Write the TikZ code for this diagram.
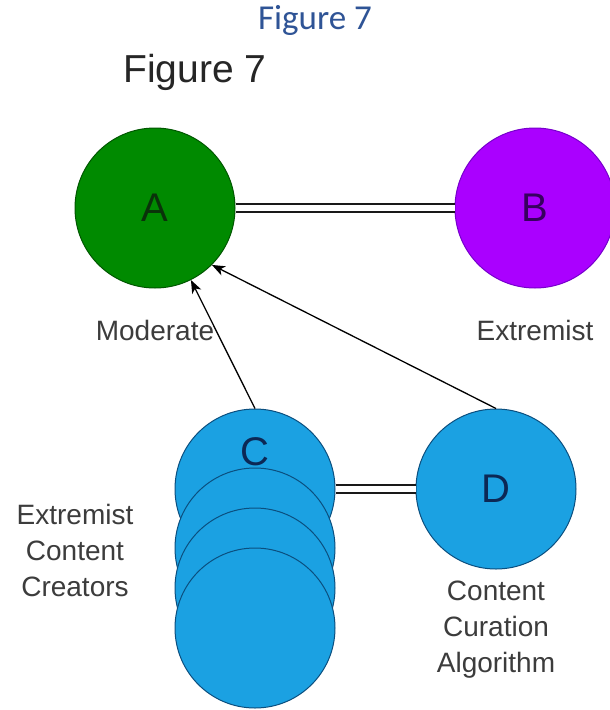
\documentclass[tikz,border=0pt]{standalone}
\usepackage{fontspec}
\setmainfont{Liberation Sans}
\newfontfamily\titlefont{Carlito}
\usetikzlibrary{arrows.meta}

\definecolor{modgreen}{HTML}{008A00}
\definecolor{modedge}{HTML}{005700}
\definecolor{extpurple}{HTML}{AA00FF}
\definecolor{extedge}{HTML}{7700CC}
\definecolor{creblue}{HTML}{1BA1E2}
\definecolor{creedge}{HTML}{0B4F7F}
\definecolor{capgray}{HTML}{3C3C3C}
\definecolor{titleblue}{HTML}{2F5496}

\tikzset{
  bubble/.style={circle, minimum size=160pt, inner sep=0pt, line width=1pt},
  lettr/.style={font=\fontsize{40}{48}\selectfont},
  caption/.style={font=\fontsize{28}{36}\selectfont, text=capgray, align=center},
  link/.style={draw=black!90, double=white, double distance=6pt, line width=1.6pt},
  feed/.style={draw=black, line width=1.3pt,
    -{Stealth[length=13pt, width=10pt, inset=3.5pt]}}
}

\begin{document}
\begin{tikzpicture}[x=1pt, y=-1pt]
\useasboundingbox (0,0) rectangle (610,710);
\fill[white] (0,0) rectangle (610,710);

% titles
\node[font=\titlefont\fontsize{35}{40}\selectfont, text=titleblue] (title) at (315,20) {Figure 7};
\node[font=\fontsize{39}{46}\selectfont, text=black!85] (subtitle) at (195,72) {Figure 7};

% the two camps
\node[bubble, fill=modgreen, draw=modedge, lettr, text={rgb,255:red,10;green,50;blue,10}] (A) at (155,208) {A};
\node[bubble, fill=extpurple, draw=extedge, lettr, text={rgb,255:red,55;green,0;blue,95}] (B) at (535,208) {B};
\node[caption] (modlbl) at (155,330) {Moderate};
\node[caption] (extlbl) at (535,330) {Extremist};

% stack of content creators
\node[bubble, fill=creblue, draw=creedge,
  label={[lettr, text={rgb,255:red,12;green,40;blue,85}, anchor=center, label distance=-43pt]90:C}] (C1) at (255,489) {};
\node[bubble, fill=creblue, draw=creedge] (C2) at (255,548) {};
\node[bubble, fill=creblue, draw=creedge] (C3) at (255,588) {};
\node[bubble, fill=creblue, draw=creedge] (C4) at (255,628) {};
\node[caption] (crelbl) at (75,550) {Extremist\\Content\\Creators};

% curation algorithm
\node[bubble, fill=creblue, draw=creedge, lettr, text={rgb,255:red,12;green,40;blue,85}] (D) at (496,489) {D};
\node[caption] (alglbl) at (496,630) {Content\\Curation\\Algorithm};

% connectors
\draw[link] (A) -- (B);
\draw[link] (C1) -- (D);
\draw[feed] (C1.north) -- (A);
\draw[feed] (D.north) -- (A.-45);
\end{tikzpicture}
\end{document}
